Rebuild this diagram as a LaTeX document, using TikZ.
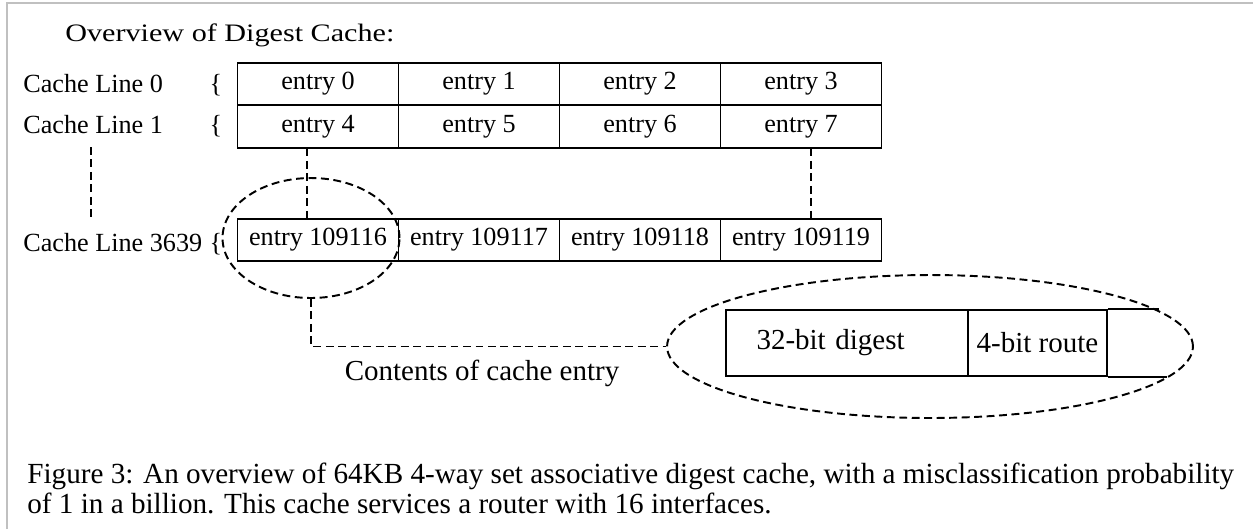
\documentclass[tikz,border=0pt]{standalone}
\usepackage{fontspec}
\setmainfont{Liberation Serif}
\newfontfamily\stretchedserif[FakeStretch=1.2]{Liberation Serif}
\usetikzlibrary{shapes.geometric}
\definecolor{framegray}{RGB}{192,192,192}

\begin{document}
\begin{tikzpicture}[%
      x=0.02cm, y=-0.02cm,
      cell/.style={draw, line width=1.1pt, minimum width=3.22cm, minimum height=0.85cm, inner sep=0pt, font=\fontsize{14.9}{17}\selectfont},
      linelabel/.style={anchor=base west, inner sep=0pt, font=\fontsize{14.9}{17}\selectfont},
      brace/.style={anchor=base, inner sep=0pt, font=\fontsize{14.9}{17}\selectfont},
      field/.style={draw, line width=1.1pt, minimum height=1.32cm, inner sep=0pt, font=\fontsize{16.5}{19}\selectfont},
      link/.style={line width=1.1pt, dash pattern=on 4.5pt off 2.6pt},
      ring/.style={ellipse, draw, line width=1.1pt, dash pattern=on 4.5pt off 2.6pt, inner sep=0pt},
      caption/.style={anchor=base west, inner sep=0pt, font=\fontsize{16.6}{19}\selectfont},
      ]
      \useasboundingbox (0,0) rectangle (1253,529);
      \draw [color=framegray, line width=1.3pt] (7,529) -- (7,3) -- (1253,3);

      \node [anchor=base west, inner sep=0pt, font=\stretchedserif\fontsize{14.3}{17}\selectfont] (title) at (65,41) {Overview of Digest Cache:};

      \node [linelabel] (l0) at (23,92) {Cache Line 0};
      \node [linelabel] (l1) at (23,133) {Cache Line 1};
      \node [linelabel] (l3639) at (23,251) {Cache Line 3639};
      \node [brace] (b0) at (216,92) {\{};
      \node [brace] (b1) at (216,133) {\{};
      \node [brace] (b3639) at (216,251) {\{};

      \node [cell] (e0) at (318,84) {entry 0};
      \node [cell] (e1) at (479,84) {entry 1};
      \node [cell] (e2) at (640,84) {entry 2};
      \node [cell] (e3) at (801,84) {entry 3};
      \node [cell] (e4) at (318,126.5) {entry 4};
      \node [cell] (e5) at (479,126.5) {entry 5};
      \node [cell] (e6) at (640,126.5) {entry 6};
      \node [cell] (e7) at (801,126.5) {entry 7};

      \node [cell] (e109116) at (318,240) {entry 109116};
      \node [cell] (e109117) at (479,240) {entry 109117};
      \node [cell] (e109118) at (640,240) {entry 109118};
      \node [cell] (e109119) at (801,240) {entry 109119};

      \coordinate (gaptop) at (91,147);
      \coordinate (gapbot) at (91,220);
      \draw [link] (gaptop) -- (gapbot);

      \coordinate (drop4) at (307,148.5);
      \draw [link] (drop4) -- (drop4 |- e109116.north);
      \coordinate (drop7) at (811,148.5);
      \draw [link] (drop7) -- (drop7 |- e109119.north);

      \node [ring, minimum width=3.54cm, minimum height=2.4cm] (zoomring) at (311,238) {};
      \node [ring, minimum width=10.52cm, minimum height=2.86cm] (entryring) at (930,346.5) {};
      \draw [link] (zoomring.south) |- (entryring.west);

      \node [field, text width=3.62cm, inner xsep=0.62cm, align=left] (digest) at (847,343) {32-bit digest};
      \node [field, minimum width=2.78cm] (route) at (1037.5,343) {4-bit route};
      \draw [line width=1.1pt] (route.north east) -- ++(51,0);
      \draw [line width=1.1pt] (route.south east) -- ++(59,0);

      \node [anchor=base, inner sep=0pt, font=\fontsize{16.5}{19}\selectfont] (contents) at (482,380) {Contents of cache entry};

      \node [caption] (cap1) at (27,483) {Figure 3: An overview of 64KB 4-way set associative digest cache, with a misclassification probability};
      \node [caption] (cap2) at (27,513) {of 1 in a billion. This cache services a router with 16 interfaces.};
      \end{tikzpicture}
\end{document}
